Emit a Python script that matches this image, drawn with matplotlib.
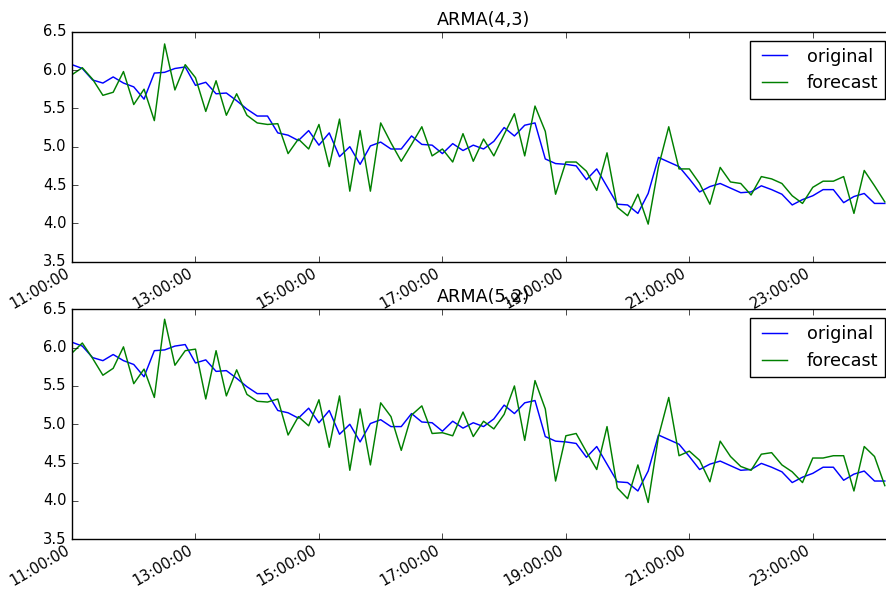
import pandas as pd
import matplotlib
matplotlib.use('Agg')
import matplotlib.pyplot as plt
import matplotlib.dates as mdates

# 10-minute samples starting 11:00
start_time = '2017-01-01 11:00:00'
n_points = 80

original = [6.07, 6.02, 5.87, 5.83, 5.91, 5.83, 5.78, 5.62, 5.96, 5.97,
            6.02, 6.04, 5.80, 5.84, 5.69, 5.70, 5.60, 5.49, 5.40, 5.40,
            5.18, 5.15, 5.08, 5.21, 5.02, 5.18, 4.87, 5.00, 4.77, 5.01,
            5.06, 4.97, 4.97, 5.14, 5.03, 5.02, 4.91, 5.04, 4.95, 5.02,
            4.97, 5.07, 5.25, 5.14, 5.28, 5.31, 4.84, 4.78, 4.77, 4.75,
            4.57, 4.71, 4.48, 4.25, 4.24, 4.13, 4.39, 4.86, 4.80, 4.74,
            4.58, 4.41, 4.48, 4.52, 4.46, 4.40, 4.41, 4.49, 4.44, 4.38,
            4.24, 4.31, 4.36, 4.44, 4.44, 4.27, 4.35, 4.39, 4.26, 4.26]

forecast_43 = [5.94, 6.03, 5.88, 5.67, 5.71, 5.98, 5.55, 5.75, 5.34, 6.34,
               5.74, 6.07, 5.90, 5.46, 5.86, 5.41, 5.69, 5.41, 5.31, 5.29,
               5.30, 4.91, 5.10, 4.97, 5.29, 4.74, 5.36, 4.42, 5.21, 4.42,
               5.31, 5.05, 4.81, 5.03, 5.26, 4.88, 4.97, 4.80, 5.17, 4.81,
               5.10, 4.88, 5.16, 5.43, 4.88, 5.53, 5.20, 4.38, 4.80, 4.80,
               4.68, 4.43, 4.92, 4.21, 4.10, 4.38, 3.99, 4.74, 5.26, 4.71,
               4.71, 4.52, 4.25, 4.73, 4.54, 4.52, 4.37, 4.61, 4.58, 4.52,
               4.36, 4.26, 4.47, 4.55, 4.55, 4.61, 4.13, 4.69, 4.49, 4.28]

forecast_52 = [5.93, 6.06, 5.86, 5.64, 5.73, 6.01, 5.53, 5.72, 5.35, 6.37,
               5.77, 5.96, 5.98, 5.33, 5.96, 5.37, 5.71, 5.39, 5.30, 5.29,
               5.33, 4.86, 5.10, 4.98, 5.32, 4.70, 5.37, 4.40, 5.20, 4.47,
               5.28, 5.10, 4.66, 5.12, 5.24, 4.88, 4.89, 4.85, 5.16, 4.84,
               5.04, 4.94, 5.13, 5.50, 4.79, 5.57, 5.20, 4.26, 4.85, 4.88,
               4.64, 4.41, 4.97, 4.17, 4.03, 4.47, 3.98, 4.84, 5.35, 4.59,
               4.65, 4.53, 4.25, 4.78, 4.58, 4.45, 4.40, 4.61, 4.63, 4.47,
               4.38, 4.24, 4.56, 4.56, 4.59, 4.59, 4.13, 4.71, 4.58, 4.20]

titles = ['ARMA(4,3)', 'ARMA(5,2)']

plt.style.use('classic')
plt.rcParams['font.size'] = 10.6
plt.rcParams['lines.linewidth'] = 1.05
times = pd.date_range(start_time, periods=n_points, freq='10min')

fig = plt.figure(figsize=(8.86, 5.89), dpi=100, facecolor='white')
ax1 = fig.add_axes([0.0813, 0.5557, 0.9278, 0.3905])
ax2 = fig.add_axes([0.0813, 0.0844, 0.9278, 0.3905])

for ax, forecast, title in zip([ax1, ax2], [forecast_43, forecast_52], titles):
    ax.plot(times, original, c='b', label='original')
    ax.plot(times, forecast, c='g', label='forecast')
    ax.set_title(title)
    ax.set_ylim(3.5, 6.5)
    ax.set_xlim(times[0], times[-1] + pd.Timedelta(minutes=9))
    ax.xaxis.set_major_locator(mdates.HourLocator(byhour=range(11, 24, 2)))
    ax.xaxis.set_major_formatter(mdates.DateFormatter('%H:%M:%S'))
    ax.tick_params(axis='x', pad=2.5)
    for lbl in ax.get_xticklabels():
        lbl.set_rotation(30)
        lbl.set_ha('right')
    ax.legend(loc='upper right')

fig.savefig('out.png', dpi=100, facecolor='white')
